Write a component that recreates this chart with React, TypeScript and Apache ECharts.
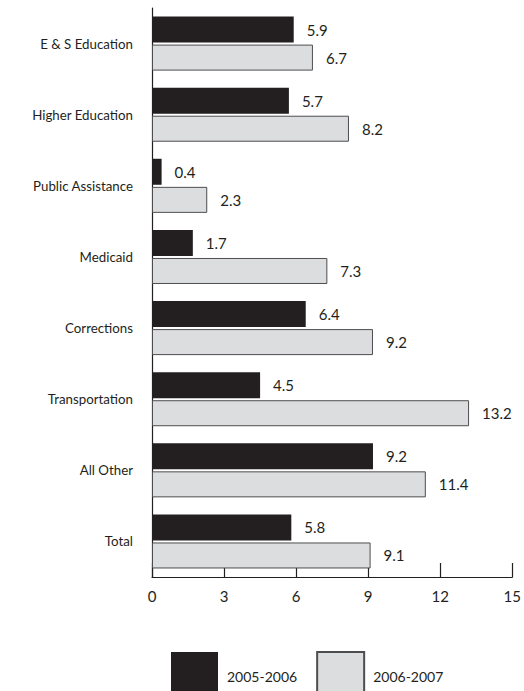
import React, { useEffect, useRef } from "react";
import * as echarts from "echarts";

const categories = [
  "E & S Education",
  "Higher Education",
  "Public Assistance",
  "Medicaid",
  "Corrections",
  "Transportation",
  "All Other",
  "Total",
];
const series2005 = [5.9, 5.7, 0.4, 1.7, 6.4, 4.5, 9.2, 5.8];
const series2006 = [6.7, 8.2, 2.3, 7.3, 9.2, 13.2, 11.4, 9.1];
const seriesNames = ["2005-2006", "2006-2007"];

const FONT = "Lato, 'Open Sans', sans-serif";
const DARK = "#231f20";

export default function App() {
  const ref = useRef<HTMLDivElement>(null);
  useEffect(() => {
    if (!ref.current) return;
    const chart = echarts.init(ref.current, undefined, { renderer: "svg" });
    const labelCfg = {
      show: true,
      position: "right" as const,
      distance: 13,
      color: DARK,
      fontFamily: FONT,
      fontSize: 15,
      formatter: (p: any) => String(p.value),
    };
    chart.setOption({
      animation: false,
      backgroundColor: "#ffffff",
      textStyle: { fontFamily: FONT },
      legend: {
        top: 651,
        left: 171,
        padding: 0,
        itemWidth: 47,
        itemHeight: 48,
        itemGap: 19,
        icon: "rect",
        data: seriesNames,
        textStyle: { color: DARK, fontFamily: FONT, fontSize: 14, padding: [0, 0, 0, 4] },
      },
      grid: { left: 152, right: 11, top: 8, bottom: 114, containLabel: false },
      xAxis: {
        type: "value",
        min: 0,
        max: 15,
        interval: 3,
        axisLine: { show: true, lineStyle: { color: DARK, width: 1.2 } },
        axisTick: { show: true, inside: true, length: 14, lineStyle: { color: DARK, width: 1.2 } },
        splitLine: { show: false },
        axisLabel: { color: DARK, fontFamily: FONT, fontSize: 15, margin: 11 },
      },
      yAxis: {
        type: "category",
        data: categories,
        inverse: true,
        axisLine: { show: true, lineStyle: { color: DARK, width: 1.2 } },
        axisTick: { show: false },
        axisLabel: { color: DARK, fontFamily: FONT, fontSize: 13.3, margin: 19 },
      },
      series: [
        {
          name: seriesNames[0],
          type: "bar",
          data: series2005,
          barWidth: 26,
          barGap: "8%",
          itemStyle: { color: DARK },
          label: labelCfg,
        },
        {
          name: seriesNames[1],
          type: "bar",
          data: series2006,
          barWidth: 26,
          barGap: "8%",
          itemStyle: { color: "#dcdddf", borderColor: "#4d4d4f", borderWidth: 1 },
          label: labelCfg,
        },
      ],
    });
    return () => chart.dispose();
  }, []);
  return <div ref={ref} style={{ width: 524, height: 691, position: "absolute", left: 0, top: 0 }} />;
}
